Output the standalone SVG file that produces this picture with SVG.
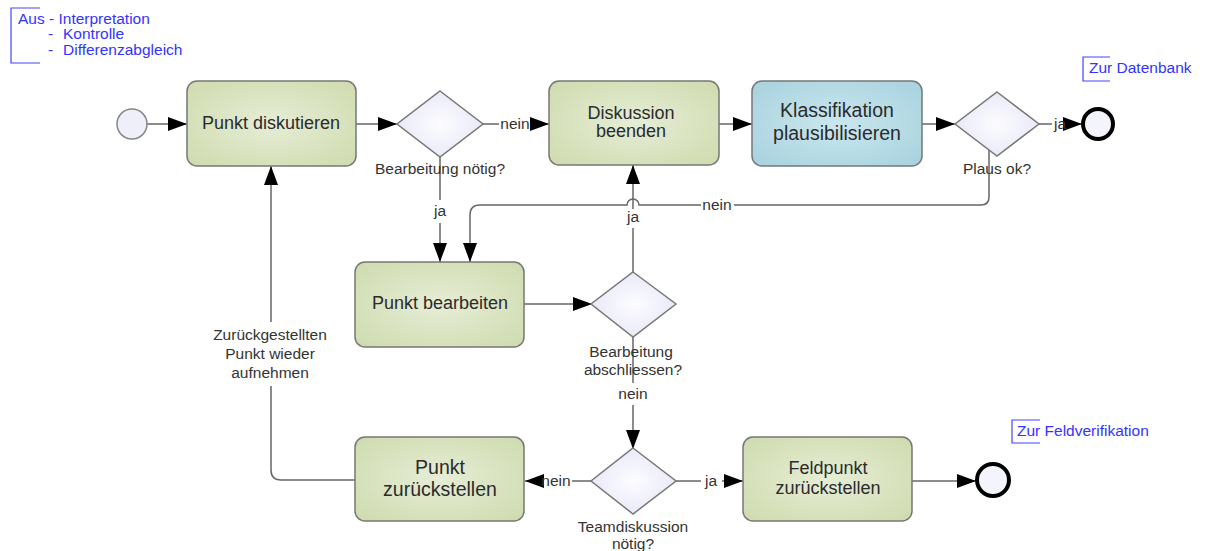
<svg xmlns="http://www.w3.org/2000/svg" width="1205" height="551" viewBox="0 0 1205 551">
<defs>
<radialGradient id="gGreen" cx="50%" cy="50%" r="65%">
<stop offset="0%" stop-color="#e6edd6"/><stop offset="100%" stop-color="#d0dcb0"/>
</radialGradient>
<radialGradient id="gBlue" cx="50%" cy="50%" r="65%">
<stop offset="0%" stop-color="#cae7ee"/><stop offset="100%" stop-color="#a9d3df"/>
</radialGradient>
<radialGradient id="gDia" cx="50%" cy="50%" r="60%">
<stop offset="0%" stop-color="#fcfcff"/><stop offset="100%" stop-color="#e6e6f7"/>
</radialGradient>
<marker id="ah" markerWidth="19" markerHeight="14" refX="19" refY="7" orient="auto" markerUnits="userSpaceOnUse">
<path d="M0,0 L19,7 L0,14 z" fill="#000"/>
</marker>
<style>
.box{stroke:#777;stroke-width:1.5}
.green{fill:url(#gGreen)}
.blue{fill:url(#gBlue)}
.dia{fill:url(#gDia);stroke:#777;stroke-width:1.5}
.conn{fill:none;stroke:#666;stroke-width:1.5}
.arr{marker-end:url(#ah)}
.nt{font-family:"Liberation Sans",Arial,sans-serif;font-size:18px;fill:#2b2b2b;text-anchor:middle}
.lb{font-family:"Liberation Sans",Arial,sans-serif;font-size:15.5px;fill:#333;text-anchor:middle}
.note{font-family:"Liberation Sans",Arial,sans-serif;font-size:15.5px;fill:#3333ff}
.br{fill:none;stroke:#4444ff;stroke-width:1.2}
</style>
</defs>
<rect width="1205" height="551" fill="#fff"/>

<g id="connectors">
<path class="conn arr" d="M147,124 H187"/>
<path class="conn arr" d="M356,124 H397"/>
<path class="conn" d="M482,124 H499"/>
<path class="conn arr" d="M531,124 H549"/>
<text class="lb" x="515" y="129">nein</text>
<path class="conn arr" d="M719,124 H752"/>
<path class="conn arr" d="M922,124 H955"/>
<path class="conn" d="M1039,124 H1052"/>
<path class="conn arr" d="M1068,124 H1082"/>
<text class="lb" x="1060" y="129">ja</text>
<path class="conn" d="M989,150 V197 Q989,205 981,205 H734"/>
<path class="conn arr" d="M701,205 H639 A6,6 0 0 0 627,205 H480 Q470,205 470,215 V262"/>
<text class="lb" x="717" y="210">nein</text>
<path class="conn" d="M440,156 V200"/>
<path class="conn arr" d="M440,223 V262"/>
<text class="lb" x="440" y="216">ja</text>
<path class="conn arr" d="M524,304 H592"/>
<path class="conn" d="M633,272 V228"/>
<path class="conn arr" d="M633,209 V165"/>
<text class="lb" x="633" y="222">ja</text>
<path class="conn" d="M633,337 V383"/>
<path class="conn arr" d="M633,405 V449"/>
<text class="lb" x="633" y="399">nein</text>
<path class="conn" d="M591,481 H572"/>
<path class="conn arr" d="M540,481 H525"/>
<text class="lb" x="556" y="486">nein</text>
<path class="conn" d="M676,481 H701"/>
<path class="conn arr" d="M722,481 H743"/>
<text class="lb" x="711" y="486">ja</text>
<path class="conn arr" d="M912,481 H976"/>
<path class="conn" d="M355,480 H281 Q271,480 271,470 V386"/>
<path class="conn arr" d="M271,322 V166"/>
<text class="lb" x="270" y="340">Zurückgestellten</text>
<text class="lb" x="270" y="359">Punkt wieder</text>
<text class="lb" x="270" y="378">aufnehmen</text>
</g>

<g id="start">
<circle cx="132" cy="124" r="15" fill="#efeff9" stroke="#888" stroke-width="1.5"/>
</g>
<g id="punkt-diskutieren">
<rect class="box green" x="187" y="81" width="169" height="85" rx="10"/>
<text class="nt" x="271" y="129">Punkt diskutieren</text>
</g>
<g id="gw-bearbeitung-noetig">
<polygon class="dia" points="440,91 483,124 440,157 397,124"/>
<text class="lb" x="440" y="174">Bearbeitung nötig?</text>
</g>
<g id="diskussion-beenden">
<rect class="box green" x="549" y="81" width="170" height="84" rx="10"/>
<text class="nt" x="631" y="119">Diskussion</text>
<text class="nt" x="631" y="137">beenden</text>
</g>
<g id="klassifikation">
<rect class="box blue" x="752" y="81" width="170" height="85" rx="10"/>
<text class="nt" x="837" y="117" style="font-size:19.5px">Klassifikation</text>
<text class="nt" x="837" y="140" style="font-size:19.5px">plausibilisieren</text>
</g>
<g id="gw-plaus">
<polygon class="dia" points="997,92 1039,124 997,156 955,124"/>
<text class="lb" x="997" y="174">Plaus ok?</text>
</g>
<g id="end-datenbank">
<circle cx="1098" cy="124" r="15" fill="#f4f4fc" stroke="#000" stroke-width="4"/>
</g>
<g id="note-datenbank">
<path class="br" d="M1110,57 H1083 V81 H1110"/>
<text class="note" x="1089" y="73">Zur Datenbank</text>
</g>
<g id="punkt-bearbeiten">
<rect class="box green" x="355" y="262" width="169" height="85" rx="10"/>
<text class="nt" x="440" y="309">Punkt bearbeiten</text>
</g>
<g id="gw-abschliessen">
<polygon class="dia" points="633,272 676,304 633,337 591,304"/>
<text class="lb" x="631" y="357">Bearbeitung</text>
<text class="lb" x="633" y="375">abschliessen?</text>
</g>
<g id="gw-teamdiskussion">
<polygon class="dia" points="633,448 676,481 633,514 591,481"/>
<text class="lb" x="633" y="532">Teamdiskussion</text>
<text class="lb" x="633" y="549">nötig?</text>
</g>
<g id="punkt-zurueckstellen">
<rect class="box green" x="355" y="437" width="169" height="84" rx="10"/>
<text class="nt" x="440" y="474" style="font-size:19.5px">Punkt</text>
<text class="nt" x="440" y="496" style="font-size:19.5px">zurückstellen</text>
</g>
<g id="feldpunkt-zurueckstellen">
<rect class="box green" x="743" y="437" width="169" height="84" rx="10"/>
<text class="nt" x="828" y="474">Feldpunkt</text>
<text class="nt" x="828" y="494">zurückstellen</text>
</g>
<g id="end-feld">
<circle cx="993" cy="480" r="16" fill="#f4f4fc" stroke="#000" stroke-width="4"/>
</g>
<g id="note-feld">
<path class="br" d="M1040,420 H1012 V443 H1040"/>
<text class="note" x="1017" y="436">Zur Feldverifikation</text>
</g>
<g id="note-aus">
<path class="br" d="M40,8 H11 V63 H40"/>
<text class="note" x="18" y="24">Aus - Interpretation</text>
<text class="note" x="48" y="39">-</text>
<text class="note" x="63" y="39">Kontrolle</text>
<text class="note" x="48" y="55">-</text>
<text class="note" x="63" y="55">Differenzabgleich</text>
</g>
</svg>
